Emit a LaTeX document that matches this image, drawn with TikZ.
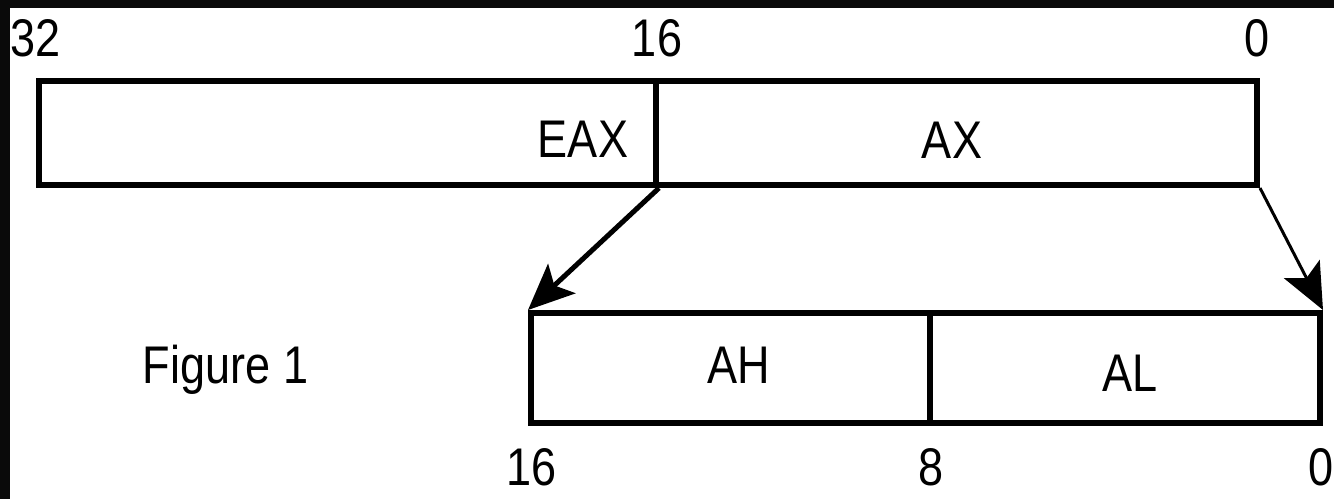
\documentclass[tikz,border=0pt]{standalone}
\usepackage{fontspec}
\newfontfamily\labfont{Liberation Sans}[FakeStretch=0.85]
\usetikzlibrary{arrows.meta}
\begin{document}
\begin{tikzpicture}[x=1pt,y=-1pt,
  reg/.style={draw, line width=6pt, inner sep=0pt, minimum height=104pt},
  regb/.style={draw, line width=6pt, inner sep=0pt, minimum height=110pt},
  lab/.style={anchor=base, inner sep=0pt, font=\labfont\fontsize{53}{60}\selectfont},
  tipbig/.tip={Stealth[length=46pt,width=40pt,inset=10pt]}]
\useasboundingbox (0,0) rectangle (1334,499);
\fill[white] (0,0) rectangle (1334,499);
\fill[black!96] (0,0) rectangle (1334,8);
\fill[black!96] (0,0) rectangle (10,499);
% registers
\node[reg, minimum width=617pt] (eax) at (347.5,133) {};
\node[reg, minimum width=601pt] (ax) at (956.5,133) {};
\node[regb, minimum width=399pt] (ah) at (730.5,368) {};
\node[regb, minimum width=390pt] (al) at (1125,368) {};
% texts
\node[lab] (teax) at (583,157) {EAX};
\node[lab] (tax) at (952,158) {AX};
\node[lab] (tah) at (738.5,383) {AH};
\node[lab] (tal) at (1130,391) {AL};
\node[lab] (fig) at (225.5,383) {Figure 1};
\node[lab] (n32) at (35.5,56) {32};
\node[lab] (n16t) at (657,56) {16};
\node[lab] (n0t) at (1257,56) {0};
\node[lab] (n16b) at (532,485) {16};
\node[lab] (n8b) at (931,485) {8};
\node[lab] (n0b) at (1321,485) {0};
% arrows
\draw[line width=5pt, -tipbig] (eax.south east) -- (ah.north west);
\draw[line width=3pt, -tipbig] (ax.south east) -- (al.north east);
\end{tikzpicture}
\end{document}
